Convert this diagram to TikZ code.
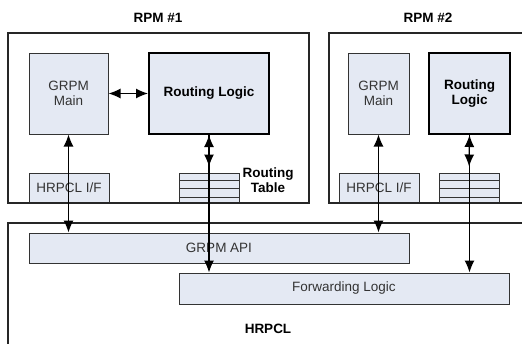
\documentclass[tikz,border=0pt]{standalone}
\usepackage{fontspec}
\setmainfont{Liberation Sans}
\usetikzlibrary{arrows.meta}
\definecolor{boxfill}{RGB}{228,233,243}

\begin{document}
\begin{tikzpicture}[x=1pt,y=-1pt,
    >={Latex[length=12pt,width=10pt]},
    font=\fontsize{13.5}{15}\selectfont,
    blk/.style={draw=black!80, fill=boxfill, line width=1pt, inner sep=0pt,
        text=black!80, align=center},
    logic/.style={blk, draw=black, line width=2pt, text=black,
        font=\fontsize{13.5}{15}\selectfont\bfseries},
    rtab/.style={blk, minimum width=60, minimum height=30,
        path picture={\foreach \yy in {7,15,24}{
            \draw[black!80, line width=1pt]
                ([yshift=-\yy pt]path picture bounding box.north west) --
                ([yshift=-\yy pt]path picture bounding box.north east);}}},
    frame/.style={draw=black!85, line width=1.1pt},
    lbl/.style={font=\fontsize{13.5}{15}\selectfont\bfseries, align=center}]

    \useasboundingbox (0,0) rectangle (522,343);
    \clip (0,0) rectangle (522,343);

    % RPM #1
    \node[blk, minimum width=79, minimum height=81] (gm1) at (68.5,93.5) {GRPM\\Main};
    \node[logic, minimum width=120, minimum height=81] (rl1) at (209,93.5) {Routing Logic};
    \node[blk, minimum width=80, minimum height=30] (if1) at (69,188) {HRPCL I/F};
    \node[rtab] (rt1) at (209,188) {};
    \node[lbl, anchor=west] (rtl1) at (239,180) {Routing\\Table};

    % RPM #2
    \node[blk, minimum width=61, minimum height=81] (gm2) at (378.5,93.5) {GRPM\\Main};
    \node[logic, minimum width=81, minimum height=81] (rl2) at (469.5,93.5) {Routing\\Logic};
    \node[blk, minimum width=80, minimum height=30] (if2) at (379,188) {HRPCL I/F};
    \node[rtab] (rt2) at (469,188) {};

    % HRPCL
    \node[blk, minimum width=380, minimum height=30] (api) at (219,248) {GRPM API};
    \node[blk, minimum width=330, minimum height=31] (fwd) at (344,288.5) {Forwarding Logic};

    \draw[frame] (8,33) rectangle (309,203);
    \draw[frame] (329,33) rectangle (540,203);
    \draw[frame] (8,223) rectangle (540,370);

    \node[lbl] (t1) at (158,18) {RPM \#1};
    \node[lbl] (t2) at (428,18) {RPM \#2};
    \node[lbl] (t3) at (268,329) {HRPCL};

    % connectors
    \draw[<->, line width=1.2pt] (gm1.east) -- (rl1.west);
    \foreach \n in {1,2}{
        \draw[<->, line width=1.2pt] (gm\n.south) -- (gm\n.south |- api.north);
        \draw[<->, line width=1.2pt, shorten >=6pt] (rl\n.south) -- (rt\n.north);
        \draw[->, line width=1.2pt] (rl\n.south) -- (rl\n.south |- fwd.north);
    }

\end{tikzpicture}
\end{document}
